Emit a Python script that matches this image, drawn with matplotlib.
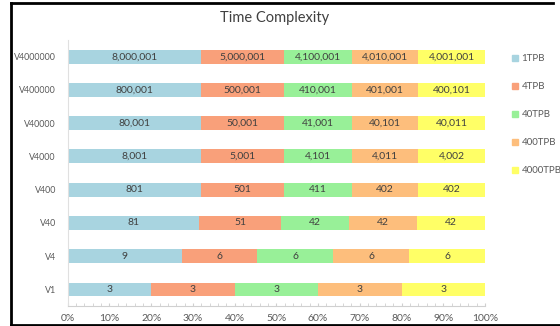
import numpy as np
import matplotlib.pyplot as plt
from matplotlib.ticker import MultipleLocator, PercentFormatter
from matplotlib.lines import Line2D

plt.rcParams['font.family'] = ['Lato', 'DejaVu Sans']

categories = ['V1', 'V4', 'V40', 'V400', 'V4000', 'V40000', 'V400000', 'V4000000']
series_names = ['1TPB', '4TPB', '40TPB', '400TPB', '4000TPB']
tpb1 = [3, 9, 81, 801, 8001, 80001, 800001, 8000001]
tpb4 = [3, 6, 51, 501, 5001, 50001, 500001, 5000001]
tpb40 = [3, 6, 42, 411, 4101, 41001, 410001, 4100001]
tpb400 = [3, 6, 42, 402, 4011, 40101, 401001, 4010001]
tpb4000 = [3, 6, 42, 402, 4002, 40011, 400101, 4001001]
colors = ['#a8d4e0', '#f9a07a', '#98f098', '#fdbe7c', '#ffff66']

data = np.array([tpb1, tpb4, tpb40, tpb400, tpb4000], dtype=float)
totals = data.sum(axis=0)
shares = data / totals

fig = plt.figure(figsize=(5.6, 3.26), dpi=100)
ax = fig.add_axes([0.121, 0.061, 0.745, 0.816])

y = np.arange(len(categories))
left = np.zeros(len(categories))
for i, name in enumerate(series_names):
    ax.barh(y, shares[i], left=left, height=0.42, color=colors[i], label=name)
    for j in range(len(categories)):
        ax.text(left[j] + shares[i][j] / 2, y[j], f'{int(data[i][j]):,}',
                ha='center', va='center', fontsize=7.5, color='#404040')
    left += shares[i]

ax.set_xlim(0, 1)
ax.set_ylim(-0.5, len(categories) - 0.5)
ax.set_yticks(y)
ax.set_yticklabels(categories)
ax.xaxis.set_major_locator(MultipleLocator(0.1))
ax.xaxis.set_minor_locator(MultipleLocator(0.02))
ax.xaxis.set_major_formatter(PercentFormatter(1.0, decimals=0))
ax.tick_params(axis='y', labelsize=6.4, colors='#595959', length=0, pad=8.5)
ax.tick_params(axis='x', which='both', labelsize=7.5, labelcolor='#595959', length=2,
               color='#d0d0d0', direction='in', pad=6)
for s in ['top', 'right']:
    ax.spines[s].set_visible(False)
ax.spines['left'].set_color('#e0e0e0')
ax.spines['bottom'].set_color('#d0d0d0')

fig.text(0.49, 0.945, 'Time Complexity', ha='center', va='center', fontsize=10.5, color='#404040')

handles = [Line2D([], [], marker='s', linestyle='none', markersize=5,
                  markerfacecolor=c, markeredgecolor=c) for c in colors]
fig.legend(handles, series_names, loc='upper left', bbox_to_anchor=(0.905, 0.845),
           frameon=False, fontsize=7, labelcolor='#595959', handlelength=0.8,
           handletextpad=0.3, labelspacing=1.95, borderaxespad=0)

# chart frame
fig.add_artist(Line2D([0.019, 0.019], [0.003, 0.99], color='black', lw=2, transform=fig.transFigure))
fig.add_artist(Line2D([0.019, 0.988], [0.99, 0.99], color='black', lw=2, transform=fig.transFigure))
fig.add_artist(Line2D([0.019, 1.0], [0.004, 0.004], color='black', lw=2, transform=fig.transFigure))

fig.savefig('out.png', dpi=100)
